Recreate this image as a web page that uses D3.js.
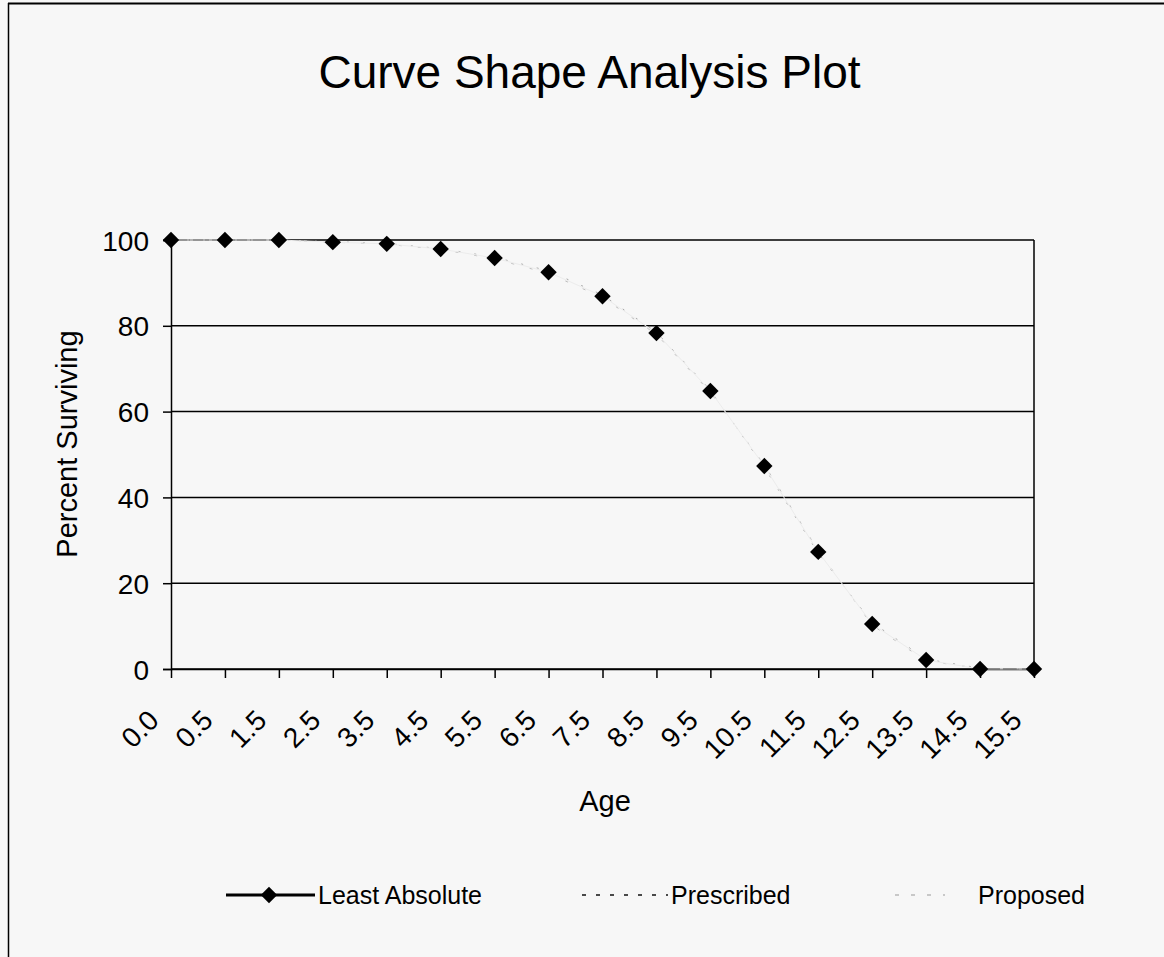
<!DOCTYPE html>
<html>
<head>
<meta charset="utf-8">
<script src="https://cdn.jsdelivr.net/npm/d3@7/dist/d3.min.js"></script>
<style>
  html, body { margin: 0; padding: 0; background: #f7f7f7; }
  svg { display: block; }
  text { font-family: "Liberation Sans", Arial, sans-serif; fill: #000; }
</style>
</head>
<body>
<svg id="chart" width="1164" height="957"></svg>
<script>
const ageLabels = ["0.0","0.5","1.5","2.5","3.5","4.5","5.5","6.5","7.5","8.5","9.5","10.5","11.5","12.5","13.5","14.5","15.5"];
const leastAbsolute = [100, 100, 100, 99.5, 99.1, 97.9, 95.8, 92.5, 86.9, 78.3, 64.8, 47.3, 27.3, 10.5, 2.1, 0, 0];
const prescribed   = [100, 100, 100, 99.6, 99.2, 98.0, 96.0, 92.8, 87.2, 78.5, 65.0, 47.0, 27.0, 10.8, 2.3, 0.2, 0];
const proposed     = [100, 100, 100, 99.5, 99.0, 97.8, 95.6, 92.2, 86.6, 78.0, 64.5, 47.6, 27.6, 10.2, 1.9, 0.1, 0];
const yTicks = [0, 20, 40, 60, 80, 100];
const seriesNames = ["Least Absolute", "Prescribed", "Proposed"];

const svg = d3.select("#chart");
const m = { left: 171, right: 1034, top: 240, bottom: 669 };

// outer frame (top + left edges visible in reference)
svg.append("line").attr("x1", 8).attr("x2", 1164).attr("y1", 3.5).attr("y2", 3.5).attr("stroke", "#000").attr("stroke-width", 2);
svg.append("line").attr("x1", 8.5).attr("x2", 8.5).attr("y1", 3).attr("y2", 957).attr("stroke", "#000").attr("stroke-width", 1.5);

const x = d3.scalePoint().domain(ageLabels).range([m.left, m.right]);
const y = d3.scaleLinear().domain([0, 100]).range([m.bottom, m.top]);

// title
svg.append("text").attr("x", 589.5).attr("y", 88).attr("text-anchor", "middle")
  .style("font-size", "46px").text("Curve Shape Analysis Plot");

// gridlines
svg.append("g").selectAll("line").data(yTicks).join("line")
  .attr("x1", m.left).attr("x2", m.right)
  .attr("y1", d => y(d)).attr("y2", d => y(d))
  .attr("stroke", "#000").attr("stroke-width", 1.5);

// right border of plot
svg.append("line").attr("x1", m.right).attr("x2", m.right).attr("y1", m.top).attr("y2", m.bottom)
  .attr("stroke", "#000").attr("stroke-width", 1.5);

// y axis
const yAxis = d3.axisLeft(y).tickValues(yTicks).tickSize(8).tickPadding(14).tickFormat(d3.format("d"));
const gy = svg.append("g").attr("transform", `translate(${m.left},0)`).call(yAxis);
gy.select(".domain").attr("stroke", "#000").attr("stroke-width", 1.5);
gy.selectAll(".tick line").attr("stroke", "#000").attr("stroke-width", 1.5);
gy.selectAll(".tick text").style("font-size", "28px").style("font-family", "Liberation Sans, Arial, sans-serif").attr("dy", "0.36em");

// x axis
const xAxis = d3.axisBottom(x).tickSize(9).tickSizeOuter(0);
const gx = svg.append("g").attr("transform", `translate(0,${m.bottom})`).call(xAxis);
gx.select(".domain").attr("stroke", "#000").attr("stroke-width", 1.5);
gx.selectAll(".tick line").attr("stroke", "#000").attr("stroke-width", 1.5);
gx.selectAll(".tick text")
  .style("font-size", "28px").style("font-family", "Liberation Sans, Arial, sans-serif")
  .attr("text-anchor", "end")
  .attr("x", 0).attr("y", 0).attr("dy", 0)
  .attr("transform", "translate(-11,53) rotate(-45)");

// axis titles
svg.append("text").attr("x", 605).attr("y", 811).attr("text-anchor", "middle")
  .style("font-size", "29px").text("Age");
svg.append("text").attr("transform", "translate(77,444) rotate(-90)").attr("text-anchor", "middle")
  .style("font-size", "29px").text("Percent Surviving");

// lines
const line = d3.line().x((d, i) => x(ageLabels[i])).y(d => y(d));
svg.append("path").datum(proposed).attr("d", line).attr("fill", "none")
  .attr("stroke", "#bdbdbd").attr("stroke-width", 1).attr("stroke-dasharray", "3,16");
svg.append("path").datum(prescribed).attr("d", line).attr("fill", "none")
  .attr("stroke", "#a8a8a8").attr("stroke-width", 1).attr("stroke-dasharray", "2,14");
svg.append("path").datum(leastAbsolute).attr("d", line).attr("fill", "none")
  .attr("stroke", "#ececec").attr("stroke-width", 1);

// markers
const diamond = d3.symbol().type(d3.symbolSquare).size(135);
svg.append("g").selectAll("path").data(leastAbsolute).join("path")
  .attr("d", diamond)
  .attr("transform", (d, i) => `translate(${x(ageLabels[i])},${y(d)}) rotate(45)`)
  .attr("fill", "#000");

// legend
const ly = 895;
const lg = svg.append("g");
lg.append("line").attr("x1", 226).attr("x2", 315).attr("y1", ly).attr("y2", ly).attr("stroke", "#000").attr("stroke-width", 3);
lg.append("path").attr("d", diamond).attr("transform", `translate(269,${ly}) rotate(45)`).attr("fill", "#000");
lg.append("text").attr("x", 318).attr("y", ly).attr("dy", "0.36em").style("font-size", "25px").text(seriesNames[0]);

lg.append("line").attr("x1", 582).attr("x2", 668).attr("y1", ly).attr("y2", ly).attr("stroke", "#111").attr("stroke-width", 1.5).attr("stroke-dasharray", "4,10");
lg.append("text").attr("x", 671).attr("y", ly).attr("dy", "0.36em").style("font-size", "25px").text(seriesNames[1]);

lg.append("line").attr("x1", 895).attr("x2", 945).attr("y1", ly).attr("y2", ly).attr("stroke", "#999").attr("stroke-width", 1.2).attr("stroke-dasharray", "4,12");
lg.append("text").attr("x", 978).attr("y", ly).attr("dy", "0.36em").style("font-size", "25px").text(seriesNames[2]);
</script>
</body>
</html>
